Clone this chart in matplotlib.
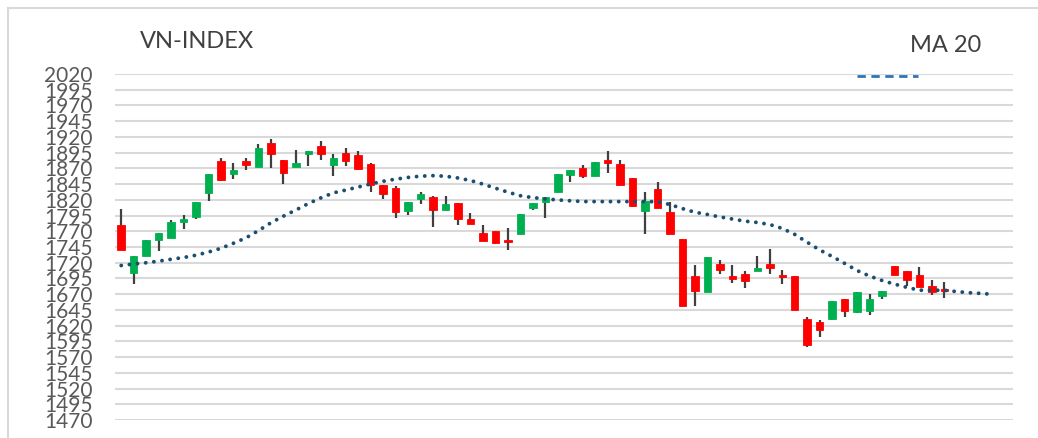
import numpy as np
import matplotlib.pyplot as plt
from matplotlib.lines import Line2D

# daily candles: open, high, low, close
opens = [1779.6, 1704.0, 1731.4, 1756.3, 1759.0, 1785.5, 1793.4, 1830.5, 1882.4, 1861.2,
         1881.3, 1871.8, 1910.5, 1884.0, 1872.9, 1892.5, 1905.2, 1875.5, 1895.1, 1890.9,
         1876.6, 1844.3, 1838.4, 1802.4, 1821.0, 1824.7, 1804.5, 1814.6, 1789.7, 1768.0,
         1770.1, 1756.9, 1765.3, 1807.2, 1816.7, 1832.1, 1859.6, 1870.2, 1858.6, 1883.5,
         1876.6, 1854.9, 1801.9, 1837.9, 1801.4, 1758.5, 1698.6, 1674.0, 1717.7, 1698.6,
         1701.3, 1707.6, 1718.7, 1700.7, 1699.1, 1630.2, 1626.5, 1631.2, 1662.0, 1641.3,
         1643.9, 1666.7, 1714.4, 1707.0, 1701.1, 1682.6, 1678.4]
highs = [1805.0, 1730.4, 1755.8, 1767.0, 1787.6, 1796.6, 1816.7, 1861.7, 1887.2, 1879.2,
         1887.2, 1909.4, 1917.4, 1884.0, 1899.9, 1897.2, 1914.2, 1893.5, 1903.0, 1897.8,
         1878.7, 1844.3, 1841.6, 1816.2, 1832.7, 1826.8, 1826.3, 1814.6, 1798.7, 1780.7,
         1770.1, 1775.4, 1797.6, 1814.6, 1824.7, 1861.2, 1868.1, 1875.0, 1880.3, 1898.3,
         1884.0, 1854.9, 1832.1, 1848.0, 1817.2, 1758.5, 1716.1, 1728.8, 1724.0, 1716.1,
         1706.5, 1731.4, 1742.6, 1709.2, 1699.1, 1634.4, 1629.6, 1658.8, 1662.0, 1673.6,
         1671.0, 1675.2, 1714.4, 1707.0, 1712.8, 1692.1, 1690.0]
lows = [1741.0, 1686.4, 1731.4, 1738.9, 1759.0, 1774.0, 1790.2, 1818.3, 1850.0, 1852.7,
        1868.1, 1871.8, 1870.7, 1845.8, 1872.9, 1874.0, 1884.0, 1858.6, 1874.4, 1867.0,
        1832.6, 1821.0, 1791.8, 1796.6, 1813.5, 1777.0, 1804.5, 1780.2, 1781.2, 1754.2,
        1749.5, 1741.0, 1765.3, 1804.0, 1791.8, 1832.1, 1849.0, 1854.9, 1858.6, 1862.8,
        1844.3, 1808.3, 1765.9, 1806.7, 1766.0, 1651.0, 1651.0, 1674.0, 1701.3, 1688.0,
        1680.1, 1707.6, 1702.8, 1685.4, 1645.6, 1586.2, 1602.1, 1629.1, 1633.9, 1639.7,
        1637.1, 1662.5, 1701.1, 1683.7, 1681.5, 1668.8, 1664.6]
closes = [1741.0, 1730.4, 1755.8, 1767.0, 1785.0, 1789.2, 1816.7, 1861.7, 1852.2, 1868.1,
          1875.5, 1903.0, 1892.5, 1862.8, 1879.2, 1897.2, 1892.5, 1886.1, 1881.3, 1868.6,
          1843.2, 1828.9, 1801.4, 1816.2, 1830.0, 1804.5, 1814.1, 1789.7, 1781.2, 1754.2,
          1752.1, 1752.6, 1797.6, 1814.6, 1824.7, 1861.2, 1868.1, 1858.6, 1880.3, 1878.2,
          1844.3, 1810.9, 1817.8, 1806.7, 1766.0, 1651.0, 1675.3, 1728.8, 1708.3, 1694.4,
          1691.7, 1711.3, 1711.8, 1697.5, 1645.6, 1588.9, 1613.2, 1658.8, 1642.9, 1673.6,
          1662.5, 1675.2, 1701.1, 1692.1, 1681.5, 1673.1, 1675.2]

# 20-day moving average (runs a few sessions past the last candle)
ma20 = [1715.6, 1718.0, 1720.0, 1722.5, 1725.5, 1728.3, 1732.0, 1737.0, 1743.0, 1751.0,
        1759.5, 1771.0, 1783.5, 1794.0, 1803.8, 1814.0, 1823.0, 1831.0, 1835.5, 1840.3,
        1845.2, 1849.5, 1852.8, 1855.6, 1857.6, 1858.4, 1857.5, 1854.7, 1850.7, 1845.0,
        1838.5, 1832.2, 1826.5, 1823.5, 1821.5, 1819.8, 1818.5, 1817.3, 1817.2, 1817.2,
        1817.2, 1817.2, 1817.2, 1817.0, 1812.5, 1806.0, 1800.3, 1796.7, 1792.8, 1789.5,
        1786.1, 1784.0, 1780.7, 1774.5, 1765.0, 1752.5, 1740.3, 1730.0, 1719.0, 1707.6,
        1698.8, 1691.8, 1686.0, 1680.8, 1676.3, 1676.3, 1676.2, 1674.1, 1672.3, 1671.1,
        1669.6]

yticks = list(range(1470, 2021, 25))
n_slots = 72

FONT = ["Lato", "DejaVu Sans"]
plt.rcParams["font.family"] = FONT

fig = plt.figure(figsize=(10.38, 4.38), dpi=100)
ax = fig.add_axes([115 / 1038, 18 / 438, 898 / 1038, 346 / 438])

o = np.array(opens)
c = np.array(closes)
x = np.arange(len(o))
up = c >= o
colors = np.where(up, "#00b050", "#ff0000")

ax.vlines(x, lows, highs, color="#404040", lw=1.6, zorder=2)
body = np.maximum(np.abs(c - o), 1.5)
ax.bar(x, body, bottom=np.minimum(o, c), width=0.6, color=colors,
       edgecolor=colors, lw=0.6, zorder=3)

ax.plot(np.arange(len(ma20)), ma20, color="#1b4f72", lw=2.8,
        linestyle=(0, (0.01, 2.1)), dash_capstyle="round", zorder=4)

ax.set_xlim(-0.5, n_slots - 0.5)
ax.set_ylim(1470, 2020)
ax.set_yticks(yticks)
ax.set_yticklabels([str(t) for t in yticks])
ax.set_xticks([])
ax.grid(axis="y", color="#d9d9d9", lw=1.5, zorder=0)
ax.set_axisbelow(True)
ax.tick_params(axis="y", length=0, pad=16, labelsize=15, labelcolor="#595959")
for s in ax.spines.values():
    s.set_visible(False)

# chart frame (top and left edges visible)
fig.add_artist(Line2D([8 / 1038, 1], [1 - 8 / 438, 1 - 8 / 438], color="#d9d9d9", lw=1.5))
fig.add_artist(Line2D([8 / 1038, 8 / 1038], [0, 1 - 8 / 438], color="#d9d9d9", lw=1.5))

fig.text(140 / 1038, 1 - 42 / 438, "VN-INDEX", fontsize=17, color="#404040", va="center")
fig.text(910 / 1038, 1 - 45 / 438, "MA 20", fontsize=17, color="#404040", va="center")
fig.add_artist(Line2D([857 / 1038, 918 / 1038], [1 - 76 / 438, 1 - 76 / 438],
                      color="#2e75b6", lw=2, linestyle=(0, (3, 2))))

fig.savefig("out.png", dpi=100)
